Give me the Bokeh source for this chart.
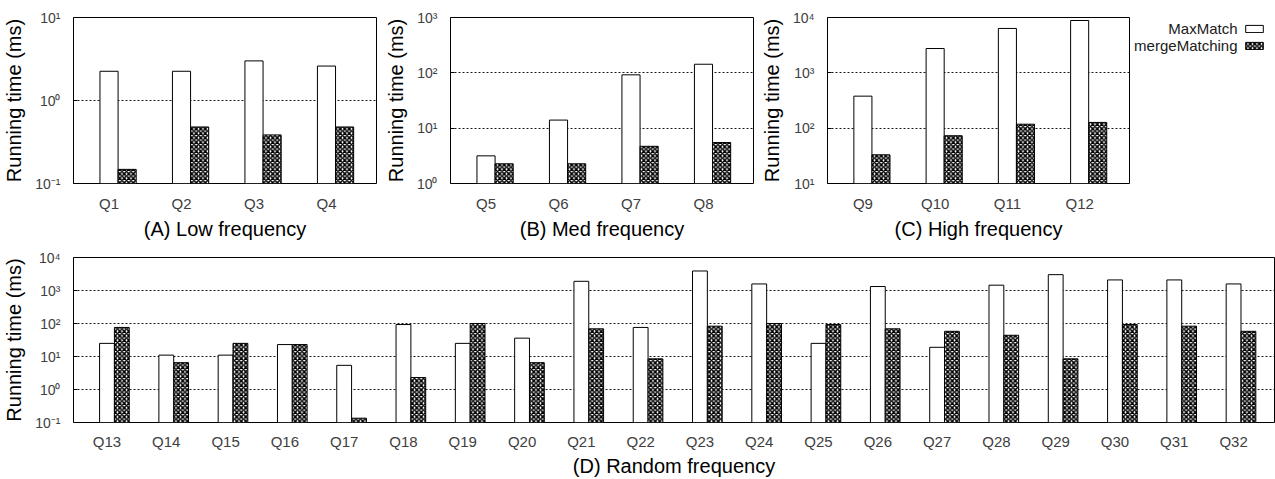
from bokeh.plotting import figure
from bokeh.layouts import column, row
from bokeh.models import Range1d, FixedTicker, Legend, LegendItem, Label
from bokeh.embed import file_html
from bokeh.resources import INLINE

# ---------------- data ----------------
low_q = ["Q1", "Q2", "Q3", "Q4"]
low_max = [2.25, 2.25, 3.0, 2.6]
low_merge = [0.148, 0.48, 0.385, 0.48]

med_q = ["Q5", "Q6", "Q7", "Q8"]
med_max = [3.16, 14, 92, 143]
med_merge = [2.27, 2.27, 4.7, 5.5]

high_q = ["Q9", "Q10", "Q11", "Q12"]
high_max = [379, 2750, 6340, 8830]
high_merge = [33, 73, 118, 127]

rand_q = ["Q13", "Q14", "Q15", "Q16", "Q17", "Q18", "Q19", "Q20", "Q21", "Q22",
          "Q23", "Q24", "Q25", "Q26", "Q27", "Q28", "Q29", "Q30", "Q31", "Q32"]
rand_max = [25, 11, 11, 23, 5.4, 93, 25, 36, 1900, 76,
            3900, 1580, 25, 1320, 19, 1450, 3020, 2090, 2090, 1580]
rand_merge = [76, 6.5, 25, 23, 0.135, 2.3, 100, 6.5, 69, 8.5,
              83, 100, 93, 69, 58, 44, 8.5, 93, 83, 58]

series_names = ["MaxMatch", "mergeMatching"]
y_label = "Running time (ms)"
titles = ["(A) Low frequency", "(B) Med frequency", "(C) High frequency", "(D) Random frequency"]

SUP = {-1: "\u207b\u00b9", 0: "\u2070", 1: "\u00b9", 2: "\u00b2", 3: "\u00b3", 4: "\u2074"}
FONT = "Liberation Sans"
BW = 0.25
MAX_STYLE = dict(fill_color="white", line_color="black", line_width=1)
MERGE_STYLE = dict(fill_color="white", line_color="black", line_width=1,
                   hatch_pattern="diagonal_cross", hatch_scale=4.5, hatch_weight=1.5,
                   hatch_color="black")


def panel(cats, vmax, vmerge, lo, hi, title, w, h, bl, br, bt, bb, xr, label_sd=5, title_sd=3):
    base = 10 ** lo
    p = figure(width=w, height=h, y_axis_type="log",
               x_range=Range1d(*xr), y_range=Range1d(base, 10 ** hi),
               output_backend="svg", toolbar_location=None,
               min_border_left=bl, min_border_right=br,
               min_border_top=bt, min_border_bottom=bb,
               background_fill_color="white", border_fill_color="white")
    xs = list(range(len(cats)))
    p.vbar(x=xs, top=vmax, bottom=base, width=BW, **MAX_STYLE)
    p.vbar(x=[x + BW for x in xs], top=vmerge, bottom=base, width=BW, **MERGE_STYLE)
    yt = [10 ** e for e in range(lo, hi + 1)]
    yticker = FixedTicker(ticks=yt, minor_ticks=[])
    p.yaxis.ticker = yticker
    p.ygrid.ticker = yticker
    p.yaxis.major_label_overrides = {10 ** e: "10" + SUP[e] for e in range(lo, hi + 1)}
    p.xaxis.ticker = FixedTicker(ticks=xs, minor_ticks=[])
    p.xaxis.major_label_overrides = {i: c for i, c in enumerate(cats)}

    p.xgrid.visible = False
    p.ygrid.grid_line_color = "black"
    p.ygrid.grid_line_dash = "2 2"
    p.ygrid.grid_line_width = 1
    p.ygrid.grid_line_alpha = 0.9

    for ax in (p.xaxis, p.yaxis):
        ax.axis_line_color = None
        ax.major_label_text_font = FONT
        ax.major_label_text_color = "#404040"
        ax.axis_label_text_font = FONT
        ax.axis_label_text_font_style = "normal"
        ax.axis_label_text_color = "black"
        ax.axis_label_text_font_size = "20px"
        ax.minor_tick_line_color = None
    p.xaxis.major_tick_line_color = None
    p.xaxis.major_label_text_font_size = "15px"
    p.xaxis.major_label_standoff = label_sd
    p.xaxis.axis_label = title
    p.xaxis.axis_label_standoff = title_sd
    p.yaxis.major_label_text_font_size = "14px"
    p.yaxis.major_tick_line_color = "black"
    p.yaxis.major_tick_in = 4
    p.yaxis.major_tick_out = 0
    p.yaxis.major_label_standoff = 13
    p.yaxis.axis_label = y_label
    p.yaxis.axis_label_standoff = 7

    p.outline_line_color = "black"
    p.outline_line_width = 1
    p.outline_line_alpha = 1
    return p


XR4 = (-0.49, 3.69)
pA = panel(low_q, low_max, low_merge, -1, 1, titles[0], 380, 243, 72, 4, 17, 60, XR4)
pB = panel(med_q, med_max, med_merge, 0, 3, titles[1], 377, 243, 70, 4, 17, 60, XR4)
pC = panel(high_q, high_max, high_merge, 1, 4, titles[2], 376, 243, 70, 4, 17, 60, XR4)
pD = panel(rand_q, rand_max, rand_merge, -1, 4, titles[3], 1275, 236, 72, 1, 14, 56,
           (-0.565, 19.69), label_sd=4, title_sd=2)

# legend panel: its frame (17..183 px, aligned with the row) is a pixel-sized data space;
# names right-aligned, swatches to their right, as in the reference.
# The two series renderers here are hidden; they only give the legend its swatches.
LW, FT, FB = 142, 17, 183
pL = figure(width=LW, height=243, x_axis_type=None, y_axis_type=None,
            x_range=Range1d(0, LW), y_range=Range1d(0, FB - FT),
            output_backend="svg", toolbar_location=None,
            min_border_left=0, min_border_right=0, min_border_top=FT, min_border_bottom=243 - FB,
            outline_line_color=None, background_fill_color="white", border_fill_color="white")
pL.grid.visible = False
hx = list(range(len(high_q)))
lm = pL.vbar(x=hx, top=high_max, width=BW, visible=False, **MAX_STYLE)
lg = pL.vbar(x=hx, top=high_merge, width=BW, visible=False, **MERGE_STYLE)
leg = Legend(items=[LegendItem(label=" ", renderers=[lm]),
                    LegendItem(label=" ", renderers=[lg])],
             location=(110, FB - FT - 50 + 17), glyph_width=22, glyph_height=9,
             label_width=0, label_height=8, label_standoff=0,
             label_text_font_size="1px", spacing=8, padding=0, margin=0,
             inactive_fill_alpha=0, click_policy="none",
             border_line_color=None, background_fill_alpha=0)
pL.add_layout(leg)
for name, yy in zip(series_names, (FB - FT - 28 + 17, FB - FT - 45 + 17)):
    pL.add_layout(Label(x=104, y=yy, text=name, text_align="right", text_baseline="middle",
                        text_font=FONT, text_font_size="15px", text_color="#202020"))

layout = column(row(pA, pB, pC, pL), pD)
open("out.html", "w").write(file_html(layout, INLINE))
